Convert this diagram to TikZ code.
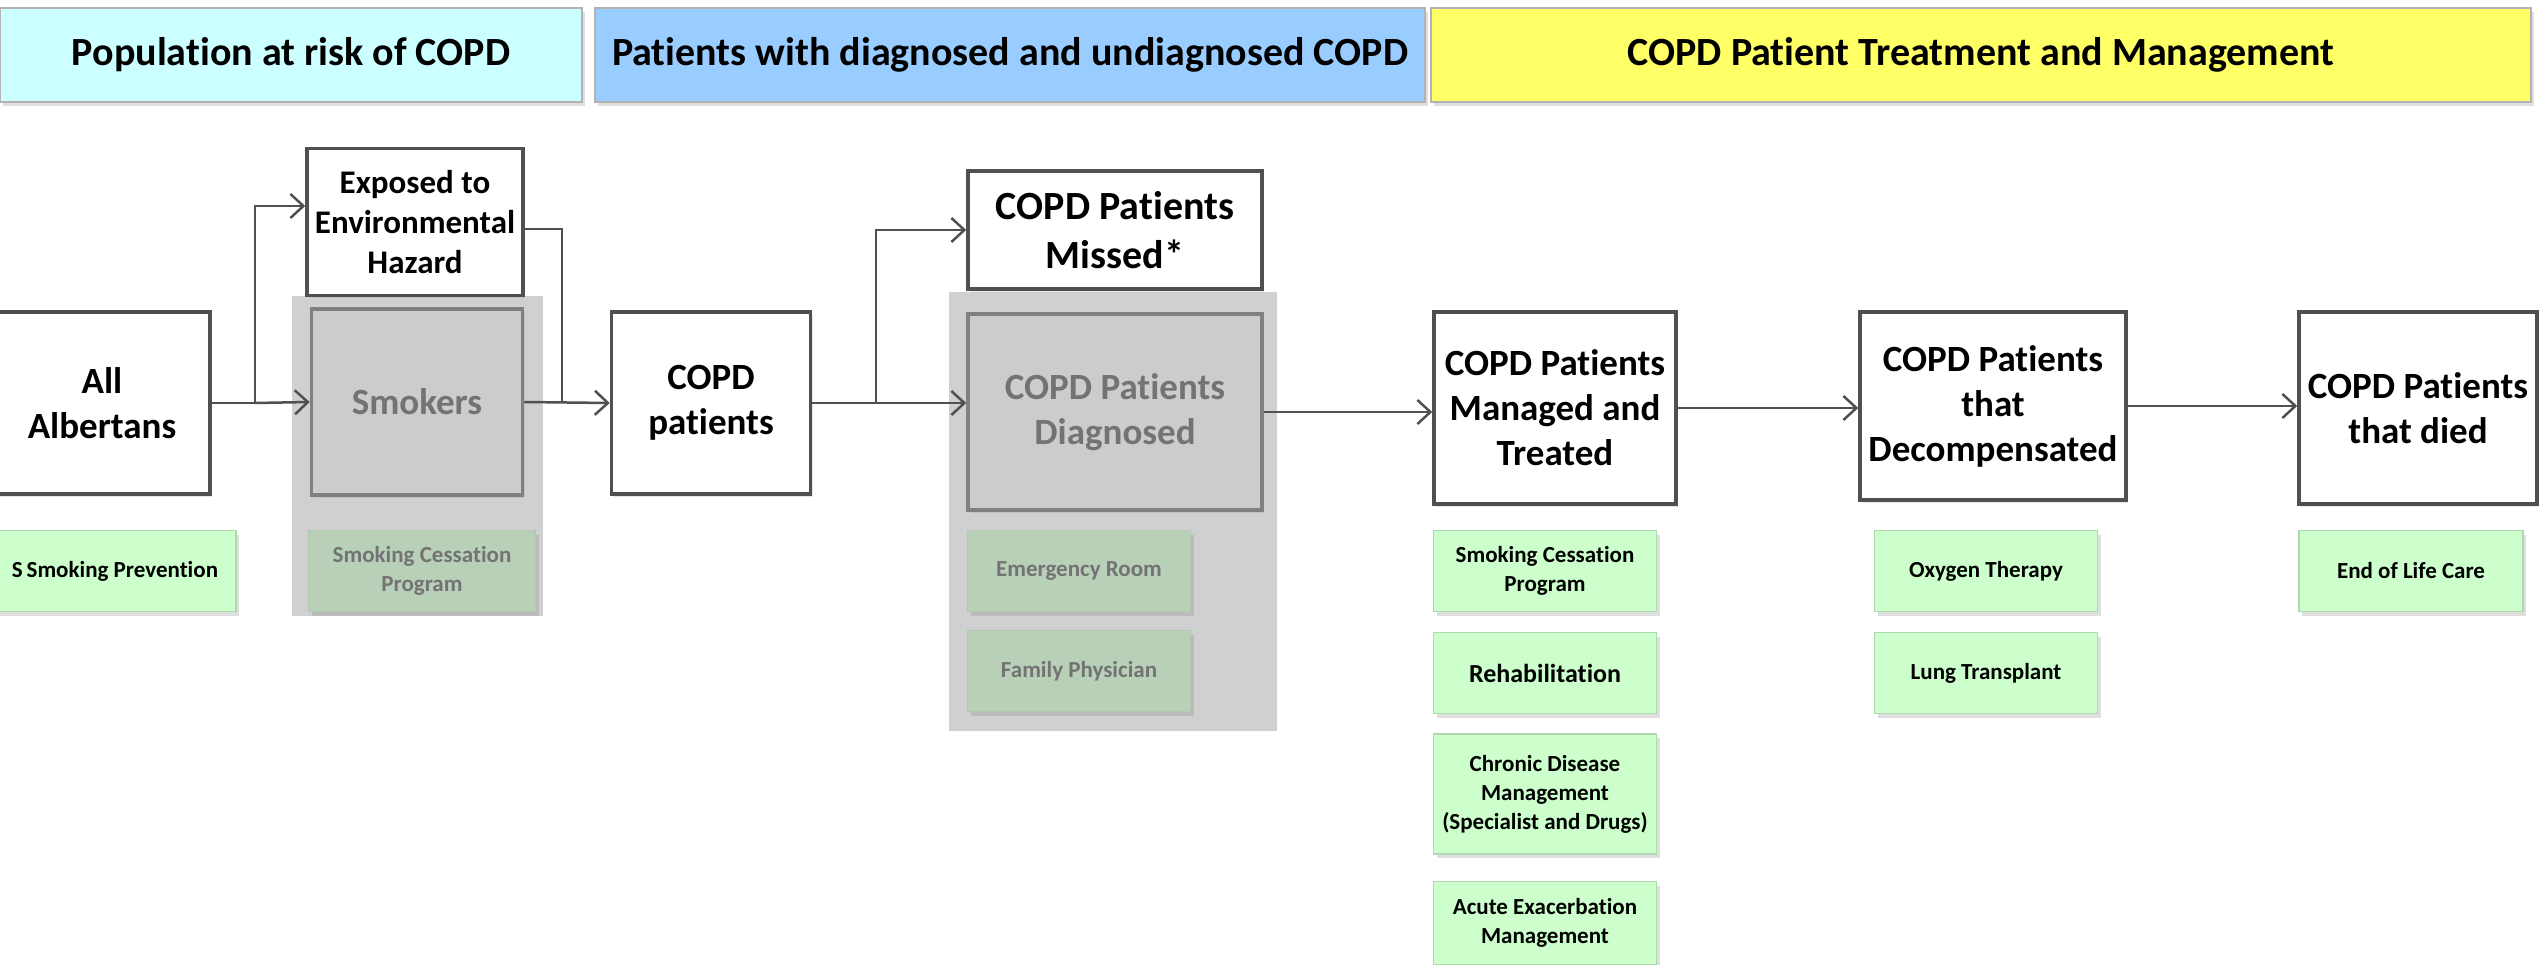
\documentclass[tikz,border=0pt]{standalone}
\usepackage{fontspec}
\setmainfont{Carlito}[Ligatures=NoCommon]
\usetikzlibrary{arrows.meta,shadows}
\definecolor{hdrcyan}{HTML}{CCFFFF}
\definecolor{hdrblue}{HTML}{99CCFF}
\definecolor{hdryellow}{HTML}{FFFF66}
\definecolor{aidgreen}{HTML}{CCFFCC}
\definecolor{aidline}{HTML}{B0D8B0}
\definecolor{mutedgreen}{HTML}{B8D0B8}
\definecolor{backgrey}{HTML}{D0D0D0}
\definecolor{boxgrey}{HTML}{CCCCCC}
\definecolor{linegrey}{HTML}{505050}
\begin{document}
\begin{tikzpicture}[x=1pt,y=-1pt,
  hdr/.style={draw=gray!60, line width=1.5pt, inner sep=0pt, minimum height=94pt,
    font=\fontsize{40}{48}\selectfont\bfseries,
    drop shadow={shadow xshift=3pt, shadow yshift=-4pt, opacity=.25}},
  box/.style={draw=linegrey, line width=3.5pt, fill=white, inner sep=0pt, align=center,
    font=\fontsize{37}{45}\selectfont\bfseries,
    drop shadow={shadow xshift=2pt, shadow yshift=-3pt, opacity=.2}},
  greybox/.style={box, draw=gray, fill=boxgrey, text=gray!90!black},
  aid/.style={draw=aidline, line width=1.5pt, fill=aidgreen, inner sep=0pt, align=center,
    minimum width=223pt, minimum height=81pt,
    font=\fontsize{23}{29}\selectfont\bfseries,
    drop shadow={shadow xshift=3pt, shadow yshift=-4pt, opacity=.25}},
  aidgrey/.style={aid, fill=mutedgreen, draw=mutedgreen!90!gray, text=gray!90!black},
  flow/.style={draw=linegrey, line width=2.5pt, -{Straight Barb[length=13pt,width=24pt,line width=2.5pt]}},
  link/.style={draw=linegrey, line width=2.5pt}]
\useasboundingbox (0,0) rectangle (2547,965);
\clip (0,0) rectangle (2547,965);

% headers
\node[hdr, fill=hdrcyan, minimum width=582pt] (hdrRisk) at (291,55){Population at risk of COPD};
\node[hdr, fill=hdrblue, minimum width=830pt] (hdrDiag) at (1010,55){Patients with diagnosed and undiagnosed COPD};
\node[hdr, fill=hdryellow, minimum width=1100pt] (hdrTreat) at (1981,55){COPD Patient Treatment and Management};

% grey backdrops
\fill[backgrey] (292,296) rectangle (543,616);
\fill[backgrey] (949,292) rectangle (1277,731);

% population
\node[box, minimum width=216pt, minimum height=182pt] (albertans) at (102,403){All\\Albertans};
\node[box, minimum width=216pt, minimum height=147pt, font=\fontsize{33}{40}\selectfont\bfseries] (exposed) at (415,222){Exposed to\\Environmental\\Hazard};
\node[greybox, minimum width=211pt, minimum height=186pt] (smokers) at (417,402){Smokers};
\node[aid, minimum width=242pt] (prevent) at (115,571){S\,Smoking Prevention};
\node[aidgrey, minimum width=227pt] (cessA) at (422,571){Smoking Cessation\\Program};

% diagnosis
\node[box, minimum width=199pt, minimum height=182pt] (copd) at (711,403){COPD\\patients};
\node[box, minimum width=294pt, minimum height=118pt, font=\fontsize{40}{49}\selectfont\bfseries] (missed) at (1115,230){COPD Patients\\Missed*};
\node[greybox, minimum width=294pt, minimum height=196pt] (diagnosed) at (1115,412){COPD Patients\\Diagnosed};
\node[aidgrey] (emerg) at (1079,571){Emergency Room};
\node[aidgrey] (family) at (1079,671){Family Physician};

% treatment
\node[box, minimum width=242pt, minimum height=192pt] (managed) at (1555,408){COPD Patients\\Managed and\\Treated};
\node[box, minimum width=266pt, minimum height=188pt] (decomp) at (1993,406){COPD Patients\\that\\Decompensated};
\node[box, minimum width=238pt, minimum height=192pt] (died) at (2418,408){COPD Patients\\that died};

\node[aid] (cessB) at (1545,571){Smoking Cessation\\Program};
\node[aid, font=\fontsize{26}{31}\selectfont\bfseries] (rehab) at (1545,673){Rehabilitation};
\node[aid, minimum height=120pt] (chronic) at (1545,794){Chronic Disease\\Management\\(Specialist and Drugs)};
\node[aid, minimum height=83pt] (acute) at (1545,923){Acute Exacerbation\\Management};
\node[aid] (oxygen) at (1986,571){Oxygen Therapy};
\node[aid] (lung) at (1986,673){Lung Transplant};
\node[aid, minimum width=224pt] (eol) at (2411,571){End of Life Care};

% connectors
\coordinate (splitA) at (255,403);
\coordinate (joinB) at (562,403);
\coordinate (splitC) at (876,403);

\draw[link](albertans.east) -- (splitA);
\draw[flow](splitA) -- (smokers.west);
\draw[flow](splitA) |- ([yshift=16pt]exposed.west);
\draw[link]([yshift=-7pt]exposed.east) -| (joinB);
\draw[flow](smokers.east) -- (copd.west);
\draw[link](copd.east) -- (splitC);
\draw[flow](splitC) |- (missed.west);
\draw[flow](splitC) -- (splitC -| diagnosed.west);
\draw[flow](diagnosed.east) -- (diagnosed.east -| managed.west);
\draw[flow](managed.east) -- (managed.east -| decomp.west);
\draw[flow](decomp.east) -- (decomp.east -| died.west);

\end{tikzpicture}
\end{document}
